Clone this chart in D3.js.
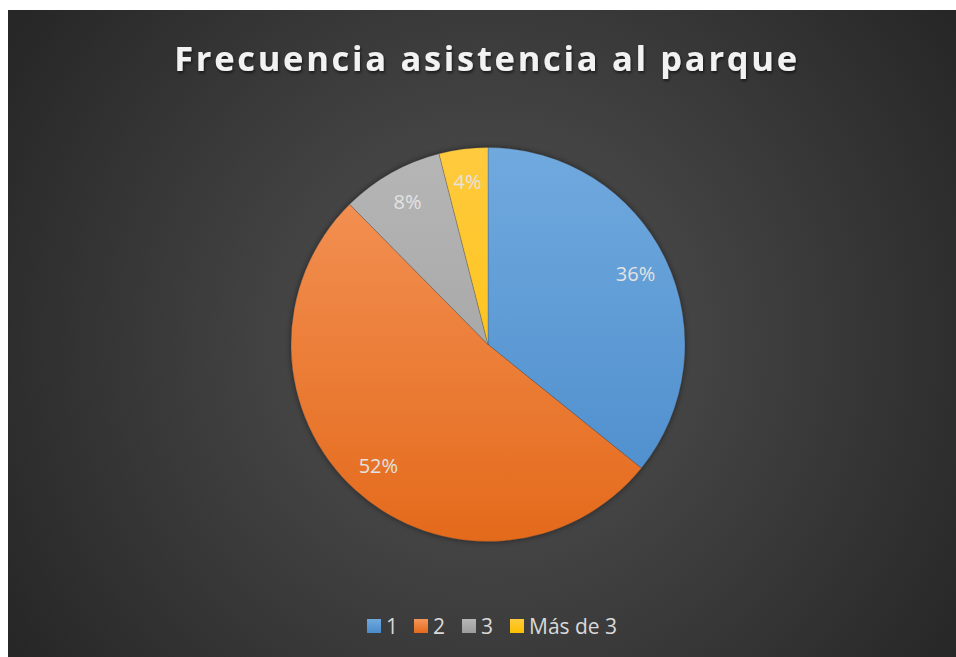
<!DOCTYPE html>
<html><head><meta charset="utf-8">
<script src="https://cdn.jsdelivr.net/npm/d3@7"></script>
<style>html,body{margin:0;padding:0;background:#fff;}svg{display:block;}</style>
</head><body>
<script>
const categories = ["1", "2", "3", "Más de 3"];
const values = [35.8, 51.8, 8.4, 4.0];
const lightColors = ["#70a9de", "#f4955a", "#b6b6b6", "#ffca3e"];
const darkColors = ["#4a8bcb", "#e46a1b", "#9c9c9c", "#fbbf00"];
const title = "Frecuencia asistencia al parque";

const W = 956, H = 657;
const svg = d3.select("body").append("svg").attr("width", W).attr("height", H);
const defs = svg.append("defs");

const bg = defs.append("radialGradient").attr("id", "bg").attr("gradientUnits", "userSpaceOnUse")
  .attr("cx", 488).attr("cy", 340).attr("r", 560);
bg.append("stop").attr("offset", "0%").attr("stop-color", "#545454");
bg.append("stop").attr("offset", "100%").attr("stop-color", "#272727");

const sh = defs.append("filter").attr("id", "tsh").attr("x", "-10%").attr("y", "-30%").attr("width", "120%").attr("height", "160%");
sh.append("feDropShadow").attr("dx", 1).attr("dy", 2).attr("stdDeviation", 1.5).attr("flood-color", "#000").attr("flood-opacity", 0.6);

const psh = defs.append("filter").attr("id", "psh").attr("x", "-10%").attr("y", "-10%").attr("width", "120%").attr("height", "120%");
psh.append("feDropShadow").attr("dx", 0).attr("dy", 0).attr("stdDeviation", 3).attr("flood-color", "#000").attr("flood-opacity", 0.5);

svg.append("rect").attr("x", 8).attr("y", 10).attr("width", W - 8).attr("height", H - 10).attr("fill", "url(#bg)");

svg.append("text").attr("x", 487).attr("y", 71).attr("text-anchor", "middle")
  .attr("font-family", "'Open Sans', sans-serif").attr("font-weight", "bold").attr("font-size", 34.5)
  .attr("letter-spacing", 2.7).attr("fill", "#f2f2f2").attr("filter", "url(#tsh)").text(title);

const cx = 488, cy = 344.5, R = 197;
const pie = d3.pie().sort(null).value(d => d)(values);
const arc = d3.arc().innerRadius(0).outerRadius(R);
const total = d3.sum(values);

categories.forEach((c, i) => {
  const g = defs.append("linearGradient").attr("id", "g" + i).attr("gradientUnits", "userSpaceOnUse")
    .attr("x1", 0).attr("y1", -R).attr("x2", 0).attr("y2", R);
  g.append("stop").attr("offset", "0%").attr("stop-color", lightColors[i]);
  g.append("stop").attr("offset", "100%").attr("stop-color", darkColors[i]);
});

const pg = svg.append("g").attr("transform", `translate(${cx},${cy})`);
pg.append("circle").attr("r", R).attr("fill", "#444").attr("filter", "url(#psh)");
pg.selectAll("path").data(pie).join("path")
  .attr("d", arc)
  .attr("fill", (d, i) => `url(#g${i})`)
  .attr("stroke", "rgba(60,60,60,0.5)").attr("stroke-width", 0.5);

const labelArc = d3.arc().innerRadius(R * 0.83).outerRadius(R * 0.83);
const fmt = d3.format(".0%");
pg.selectAll("text.lbl").data(pie).join("text").attr("class", "lbl")
  .attr("transform", d => `translate(${labelArc.centroid(d)})`)
  .attr("text-anchor", "middle").attr("dy", "0.35em")
  .attr("font-family", "'Open Sans', sans-serif").attr("font-size", 20)
  .attr("fill", "#e3e3e3")
  .text(d => fmt(d.value / total));

// Legend
const legX = [367, 414, 462, 510];
const lg = svg.append("g");
categories.forEach((c, i) => {
  const g = defs.append("linearGradient").attr("id", "lg" + i).attr("x1", 0).attr("y1", 0).attr("x2", 0).attr("y2", 1);
  g.append("stop").attr("offset", "0%").attr("stop-color", lightColors[i]);
  g.append("stop").attr("offset", "100%").attr("stop-color", darkColors[i]);
  lg.append("rect").attr("x", legX[i]).attr("y", 619).attr("width", 14).attr("height", 14).attr("fill", `url(#lg${i})`);
  lg.append("text").attr("x", legX[i] + 19).attr("y", 634)
    .attr("font-family", "'Open Sans', sans-serif").attr("font-size", 21)
    .attr("fill", "#d9d9d9").text(c);
});
</script>
</body></html>
